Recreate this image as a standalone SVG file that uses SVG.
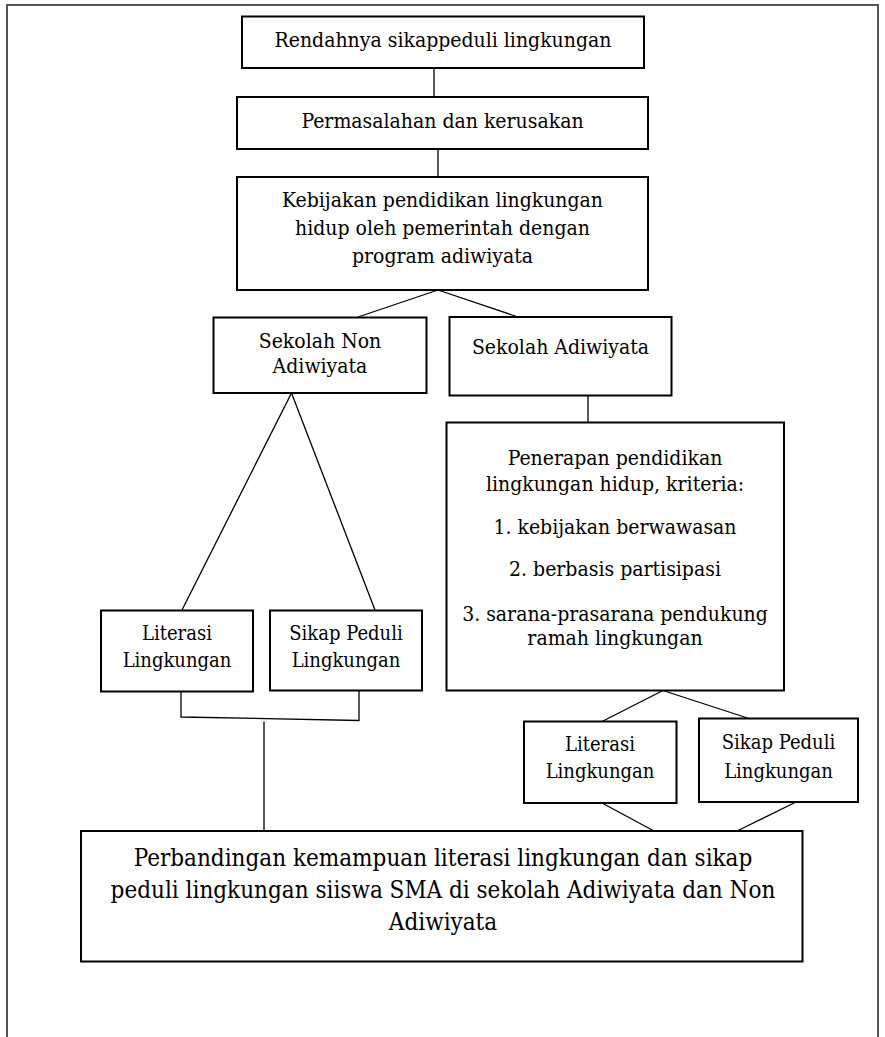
<svg xmlns="http://www.w3.org/2000/svg" width="885" height="1037" viewBox="0 0 885 1037">
  <style>
    .box { fill: #ffffff; stroke: #000000; stroke-width: 2; }
    .conn { fill: none; stroke: #000000; stroke-width: 1.3; }
    .frame { fill: none; stroke: #555555; stroke-width: 2; }
    text { font-family: "DejaVu Serif Condensed", "DejaVu Serif", "Liberation Serif", serif; font-stretch: condensed; font-size: 21px; fill: #000000; text-anchor: middle; }
    .sm { font-size: 20px; }
    .big { font-size: 24px; }
  </style>
  <rect width="885" height="1037" fill="#ffffff"/>
  <path class="frame" d="M7,1040 L7,5 L878,5 L878,1040"/>

  <g id="connectors">
    <line class="conn" x1="434" y1="68" x2="434" y2="97"/>
    <line class="conn" x1="438" y1="149" x2="438" y2="177"/>
    <line class="conn" x1="438" y1="290" x2="358" y2="317"/>
    <line class="conn" x1="438" y1="290" x2="518" y2="317"/>
    <line class="conn" x1="588" y1="395.5" x2="588" y2="422.5"/>
    <line class="conn" x1="291.5" y1="393" x2="182" y2="610"/>
    <line class="conn" x1="291.5" y1="393" x2="375" y2="610"/>
    <polyline class="conn" points="181,691.5 181,717 359,720.5 359,690.5"/>
    <line class="conn" x1="264" y1="721.5" x2="264" y2="831"/>
    <line class="conn" x1="663" y1="690.5" x2="602" y2="721.5"/>
    <line class="conn" x1="663" y1="690.5" x2="749" y2="718.5"/>
    <line class="conn" x1="602" y1="803" x2="654" y2="831"/>
    <line class="conn" x1="796" y1="802" x2="737" y2="831"/>
  </g>

  <g id="n1">
    <rect class="box" x="242" y="16.5" width="402" height="51.5"/>
    <text x="443" y="47">Rendahnya sikappeduli lingkungan</text>
  </g>
  <g id="n2">
    <rect class="box" x="237" y="97" width="411" height="52"/>
    <text x="442.5" y="128">Permasalahan dan kerusakan</text>
  </g>
  <g id="n3">
    <rect class="box" x="237" y="177" width="411" height="113"/>
    <text x="442.5" y="207">Kebijakan pendidikan lingkungan</text>
    <text x="442.5" y="235">hidup oleh pemerintah dengan</text>
    <text x="442.5" y="263">program adiwiyata</text>
  </g>
  <g id="n4">
    <rect class="box" x="213.5" y="317.5" width="213" height="75.5"/>
    <text x="320" y="348">Sekolah Non</text>
    <text x="320" y="373">Adiwiyata</text>
  </g>
  <g id="n5">
    <rect class="box" x="449.5" y="317" width="222" height="78.5"/>
    <text x="560.5" y="354">Sekolah Adiwiyata</text>
  </g>
  <g id="n6">
    <rect class="box" x="446.5" y="422.5" width="337.5" height="268"/>
    <text x="615" y="465">Penerapan pendidikan</text>
    <text x="615" y="491">lingkungan hidup, kriteria:</text>
    <text x="615" y="534">1. kebijakan berwawasan</text>
    <text x="615" y="576">2. berbasis partisipasi</text>
    <text x="615" y="620.5">3. sarana-prasarana pendukung</text>
    <text x="615" y="645">ramah lingkungan</text>
  </g>
  <g id="n7">
    <rect class="box" x="101" y="610.5" width="152" height="81"/>
    <text class="sm" x="177" y="640">Literasi</text>
    <text class="sm" x="177" y="666.5">Lingkungan</text>
  </g>
  <g id="n8">
    <rect class="box" x="270" y="610.5" width="152" height="80"/>
    <text class="sm" x="346" y="640">Sikap Peduli</text>
    <text class="sm" x="346" y="666.5">Lingkungan</text>
  </g>
  <g id="n9">
    <rect class="box" x="524" y="721.5" width="152.5" height="81.5"/>
    <text class="sm" x="600" y="751">Literasi</text>
    <text class="sm" x="600" y="777.5">Lingkungan</text>
  </g>
  <g id="n10">
    <rect class="box" x="699" y="718.5" width="159" height="83.5"/>
    <text class="sm" x="778.5" y="749">Sikap Peduli</text>
    <text class="sm" x="778.5" y="777.5">Lingkungan</text>
  </g>
  <g id="n11">
    <rect class="box" x="81" y="831" width="721.5" height="130.5"/>
    <text class="big" x="443" y="866">Perbandingan kemampuan literasi lingkungan dan sikap</text>
    <text class="big" x="443" y="898">peduli lingkungan siiswa SMA di sekolah Adiwiyata dan Non</text>
    <text class="big" x="443" y="930">Adiwiyata</text>
  </g>
</svg>
